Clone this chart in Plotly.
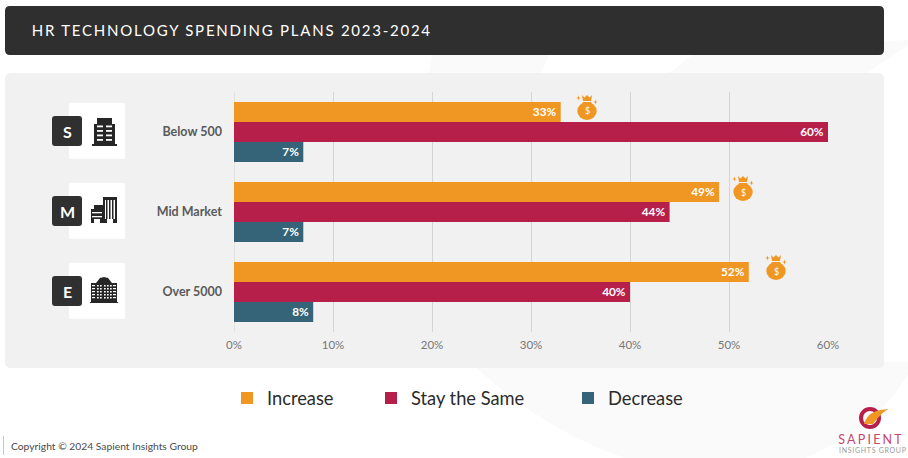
import plotly.graph_objects as go

W, H = 908, 458
categories = ["Below 500", "Mid Market", "Over 5000"]
increase = [33, 49, 52]
stay_same = [60, 44, 40]
decrease = [7, 7, 8]
x_ticks = [0, 10, 20, 30, 40, 50, 60]
series_names = ["Increase", "Stay the Same", "Decrease"]
colors = ["#F09723", "#B71F4B", "#356378"]
badges = ["S", "M", "E"]
FONT = "Lato"


def X(p):
    return p / W


def Y(p):
    return 1 - p / H


def rrect(x0, y0, x1, y1, r):
    return (f"M{X(x0+r)},{Y(y0)} L{X(x1-r)},{Y(y0)} Q{X(x1)},{Y(y0)} {X(x1)},{Y(y0+r)} "
            f"L{X(x1)},{Y(y1-r)} Q{X(x1)},{Y(y1)} {X(x1-r)},{Y(y1)} L{X(x0+r)},{Y(y1)} "
            f"Q{X(x0)},{Y(y1)} {X(x0)},{Y(y1-r)} L{X(x0)},{Y(y0+r)} Q{X(x0)},{Y(y0)} {X(x0+r)},{Y(y0)} Z")


def poly(pts):
    return "M" + " L".join(f"{X(a)},{Y(b)}" for a, b in pts) + " Z"


shapes = []


def add_path(path, fill, layer="below", line=None):
    shapes.append(dict(type="path", xref="paper", yref="paper", path=path, fillcolor=fill,
                       line=dict(width=0) if line is None else line, layer=layer))


def add_rect(x0, y0, x1, y1, fill, layer="above"):
    shapes.append(dict(type="rect", xref="paper", yref="paper", x0=X(x0), x1=X(x1), y0=Y(y0), y1=Y(y1),
                       fillcolor=fill, line=dict(width=0), layer=layer))


def add_oval(cx, cy, rx, ry, fill, layer="above", line=None):
    shapes.append(dict(type="circle", xref="paper", yref="paper", x0=X(cx-rx), x1=X(cx+rx), y0=Y(cy-ry), y1=Y(cy+ry),
                       fillcolor=fill, line=dict(width=0) if line is None else line, layer=layer))


# faint backdrop swirl, header, panel
BG = "#FAFAFA"
add_path(poly([(433, 50), (552, 50), (538, 78), (428, 78)]), BG)
add_path(poly([(698, 50), (908, 40), (908, 45), (860, 78), (663, 78)]), BG)
add_path(f"M{X(470)},{Y(362)} L{X(908)},{Y(362)} L{X(908)},{Y(374)} "
         f"C{X(890)},{Y(405)} {X(860)},{Y(435)} {X(805)},{Y(458)} L{X(625)},{Y(458)} "
         f"C{X(570)},{Y(440)} {X(515)},{Y(405)} {X(470)},{Y(362)} Z", BG)
add_path(rrect(5, 6, 884, 55, 5), "#2F2F2F")
add_path(rrect(5, 73, 884, 368, 6), "#F1F1F1")

# icon cards
for top in (103, 183, 263):
    add_path(rrect(69, top, 125, top + 56, 2), "#FFFFFF")
    add_path(rrect(52, top + 13, 82, top + 43, 3), "#303030", layer="above")

DK = "#262626"
# small-company tower
add_path(poly([(94, 124), (97, 124), (97, 118), (112, 118), (112, 124), (115, 124), (115, 144), (94, 144)]), DK, "above")
add_rect(92, 144, 117, 146, DK)
for yy in (125.5, 130, 134.5, 139):
    add_rect(97, yy, 103, yy + 1.8, "#FFFFFF")
    add_rect(106, yy, 112, yy + 1.8, "#FFFFFF")
# mid-market buildings
add_rect(91, 209, 103, 223, DK)
add_rect(103, 197, 117, 223, DK)
add_rect(105, 200, 115, 219, "#FFFFFF")
for xx in (106, 109, 112):
    add_rect(xx, 200, xx + 1.5, 219, DK)
for yy in (212, 216):
    add_rect(92, yy, 102, yy + 1.3, "#FFFFFF")
add_rect(94, 219, 100, 223, "#FFFFFF")
add_rect(107, 219, 113, 223, "#FFFFFF")
add_rect(94, 205, 103, 209, DK)
# enterprise complex
add_rect(91, 283, 117, 302, DK)
add_path(poly([(96, 283), (100, 278), (104, 277), (108, 278), (112, 283)]), DK, "above")
add_rect(90, 302, 118, 303, DK)
for yy in (285, 288, 291, 294, 297):
    for xx in (97, 100, 104, 107, 110):
        add_rect(xx, yy, xx + 1.7, yy + 1.4, "#FFFFFF")
    add_rect(92, yy, 95, yy + 1.2, "#FFFFFF")
    add_rect(113, yy, 116, yy + 1.2, "#FFFFFF")

# money bags
OR = colors[0]
bag_tops = [(587, 95), (743, 176), (776, 255)]
for cx, ty in bag_tops:
    add_path(poly([(cx-5, ty), (cx-2.5, ty+2.5), (cx, ty), (cx+2.5, ty+2.5), (cx+5, ty), (cx+4, ty+6), (cx-4, ty+6)]), OR, "above")
    add_oval(cx, ty + 16, 9.7, 9, OR)
    add_path(poly([(cx-4, ty+7), (cx+4, ty+7), (cx+6, ty+11), (cx-6, ty+11)]), OR, "above")
    for sx, sy, s in ((cx-8.5, ty+3, 2.4), (cx+8.5, ty+7, 2.4)):
        add_path(poly([(sx, sy-s), (sx+0.6, sy-0.6), (sx+s, sy), (sx+0.6, sy+0.6), (sx, sy+s), (sx-0.6, sy+0.6), (sx-s, sy), (sx-0.6, sy-0.6)]), OR, "above")

# footer rule and logo
add_rect(3, 436, 4, 455, "#C8C8C8")
add_oval(870, 418, 9, 9, "rgba(0,0,0,0)", line=dict(color="#B71F4B", width=4))
add_path(f"M{X(864)},{Y(424)} C{X(868)},{Y(412)} {X(876)},{Y(410)} {X(889)},{Y(409)} "
         f"C{X(882)},{Y(412)} {X(878)},{Y(418)} {X(873)},{Y(424)} Z", OR, "above")

fig = go.Figure()
for name, vals, col, lg in zip(series_names, [increase, stay_same, decrease], colors, ["legend", "legend2", "legend3"]):
    fig.add_trace(go.Bar(
        y=categories, x=vals, name=name, orientation="h", marker=dict(color=col, line=dict(width=0)),
        text=[f"{v}%\u2009" for v in vals], textposition="inside", insidetextanchor="end", textangle=0,
        textfont=dict(family=FONT, size=13.5, color="#FFFFFF", weight="bold"), legend=lg,
        hoverinfo="skip",
    ))


def note(x, y, text, size, color, anchor="center", weight="normal"):
    return dict(xref="paper", yref="paper", x=X(x), y=Y(y), text=text, showarrow=False, xanchor=anchor, yanchor="middle",
                font=dict(family=FONT, size=size, color=color, weight=weight), borderpad=0, borderwidth=0)


annotations = [note(231.5, 30, "HR TECHNOLOGY SPENDING PLANS 2023-2024", 15, "#FFFFFF")]
for b, top in zip(badges, (103, 183, 263)):
    annotations.append(note(67, top + 28, b, 16, "#FFFFFF", weight="bold"))
for cx, ty in bag_tops:
    annotations.append(note(cx, ty + 16, "$", 9, "#FFFFFF"))
annotations.append(note(11, 445.5, "Copyright © 2024 Sapient Insights Group", 10.3, "#4A4A4A", "left"))
annotations.append(note(871.5, 439.5, "SAPIENT", 12.5, "#C8466B"))
annotations.append(note(872.5, 449.5, "INSIGHTS GROUP", 7, "#9A9A9A"))


def leg(x):
    return dict(x=X(x), y=Y(398), xanchor="left", yanchor="middle", orientation="h",
                bgcolor="rgba(0,0,0,0)", font=dict(family=FONT, size=18.3, color="#2B2B2B"), borderwidth=0)


fig.update_layout(
    width=W, height=H, margin=dict(l=0, r=0, t=0, b=0, autoexpand=False), autosize=False,
    paper_bgcolor="#FFFFFF", plot_bgcolor="rgba(0,0,0,0)", barmode="group", bargap=0.25, bargroupgap=0,
    xaxis=dict(domain=[X(234), X(828)], range=[0, 60], tickvals=x_ticks, ticktext=[f"{t}%" for t in x_ticks],
               showgrid=True, gridcolor="#D4D4D4", gridwidth=1, zeroline=True, zerolinecolor="#E2E2E2", zerolinewidth=1,
               showline=False, ticks="", ticklabelstandoff=4, tickfont=dict(family=FONT, size=11.5, color="#777777"), anchor="y"),
    yaxis=dict(domain=[Y(332), Y(92)], autorange="reversed", type="category", showgrid=False, showline=False, zeroline=False,
               ticks="", ticklabelstandoff=11, tickfont=dict(family=FONT, size=12.5, color="#5A5A5A", weight="bold")),
    legend=leg(227), legend2=leg(371), legend3=leg(568),
    shapes=shapes, annotations=annotations, showlegend=True, font=dict(family=FONT),
)

post = """
document.documentElement.style.overflow='hidden';
document.body.style.margin='0';
var sp={'HR TECHNOLOGY SPENDING PLANS 2023-2024':'1.75px','SAPIENT':'2.2px','INSIGHTS GROUP':'0.7px'};
document.querySelectorAll('.annotation-text').forEach(function(t){
  var s=sp[t.textContent]; if(s){t.style.letterSpacing=s;}
});
"""
fig.write_html("out.html", post_script=post, config=dict(displayModeBar=False))
